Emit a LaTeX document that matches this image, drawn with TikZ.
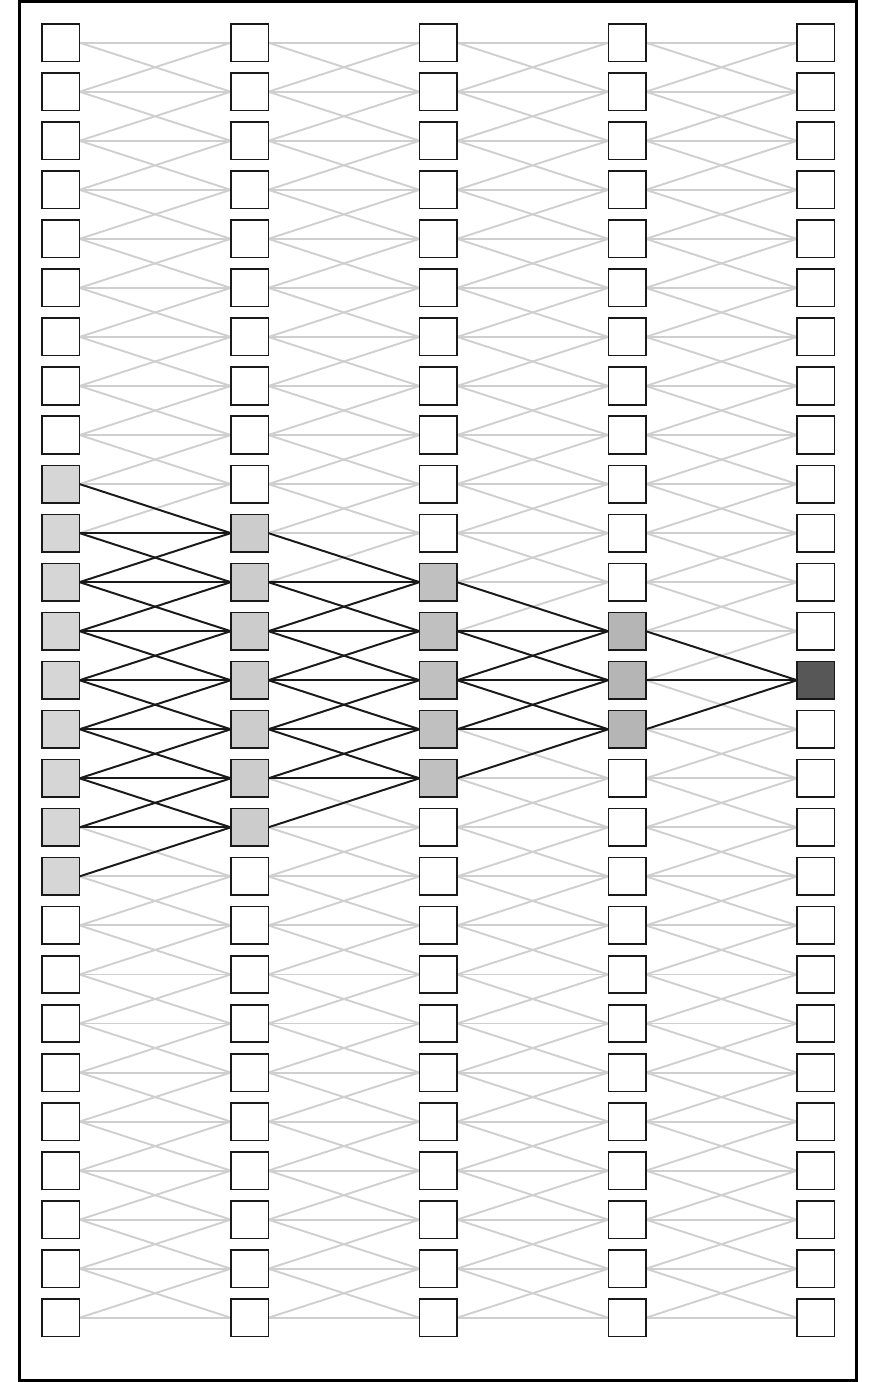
\documentclass[tikz,border=0pt]{standalone}
\usetikzlibrary{backgrounds}
\definecolor{fillA}{HTML}{D6D6D6}
\definecolor{fillB}{HTML}{CCCCCC}
\definecolor{fillC}{HTML}{C0C0C0}
\definecolor{fillD}{HTML}{B5B5B5}
\definecolor{fillE}{HTML}{575757}
\definecolor{linkgray}{HTML}{CFCFCF}
\begin{document}
\begin{tikzpicture}[x=1pt,y=-1pt,
  cell/.style={draw=black!90,line width=1.6pt,fill=white,minimum size=37.5pt,inner sep=0pt,outer sep=0pt},
  hl0/.style={cell,fill=fillA},
  hl1/.style={cell,fill=fillB},
  hl2/.style={cell,fill=fillC},
  hl3/.style={cell,fill=fillD},
  hl4/.style={cell,fill=fillE},
  faint/.style={draw=linkgray,line width=1.9pt},
  strong/.style={draw=black!90,line width=1.9pt}]
\useasboundingbox (0,0) rectangle (877,1382);
% outer frame
\draw[line width=3.3pt] (19.3,1.5) rectangle (856.7,1381);
% layers of units; the receptive field of the centre output unit is shaded
\foreach \c in {0,...,4}{
  \foreach \r in {0,...,26}{
    \pgfmathtruncatemacro\dist{abs(\r-13)}
    \pgfmathtruncatemacro\reach{4-\c}
    \ifnum\dist>\reach
      \node[cell] (n-\c-\r) at ({60.8+188.75*\c},{42.7+49.04*\r}) {};
    \else
      \node[hl\c] (n-\c-\r) at ({60.8+188.75*\c},{42.7+49.04*\r}) {};
    \fi
  }
}
\begin{scope}[on background layer]
  % all connections between neighbouring units
  \foreach \c [evaluate=\c as \nc using int(\c+1)] in {0,...,3}{
    \foreach \r in {0,...,26}{
      \foreach \d in {-1,0,1}{
        \pgfmathtruncatemacro\t{\r+\d}
        \ifnum\t>-1 \ifnum\t<27
          \draw[faint] (n-\c-\r.east) -- (n-\nc-\t.west);
        \fi\fi
      }
    }
  }
  % connections inside the receptive field
  \foreach \c [evaluate=\c as \nc using int(\c+1)] in {0,...,3}{
    \foreach \r in {0,...,26}{
      \foreach \d in {-1,0,1}{
        \pgfmathtruncatemacro\t{\r+\d}
        \pgfmathtruncatemacro\ds{abs(\r-13)}
        \pgfmathtruncatemacro\dt{abs(\t-13)}
        \pgfmathtruncatemacro\rs{4-\c}
        \pgfmathtruncatemacro\rt{3-\c}
        \ifnum\ds>\rs\else\ifnum\dt>\rt\else
          \draw[strong] (n-\c-\r.east) -- (n-\nc-\t.west);
        \fi\fi
      }
    }
  }
\end{scope}
\end{tikzpicture}
\end{document}
